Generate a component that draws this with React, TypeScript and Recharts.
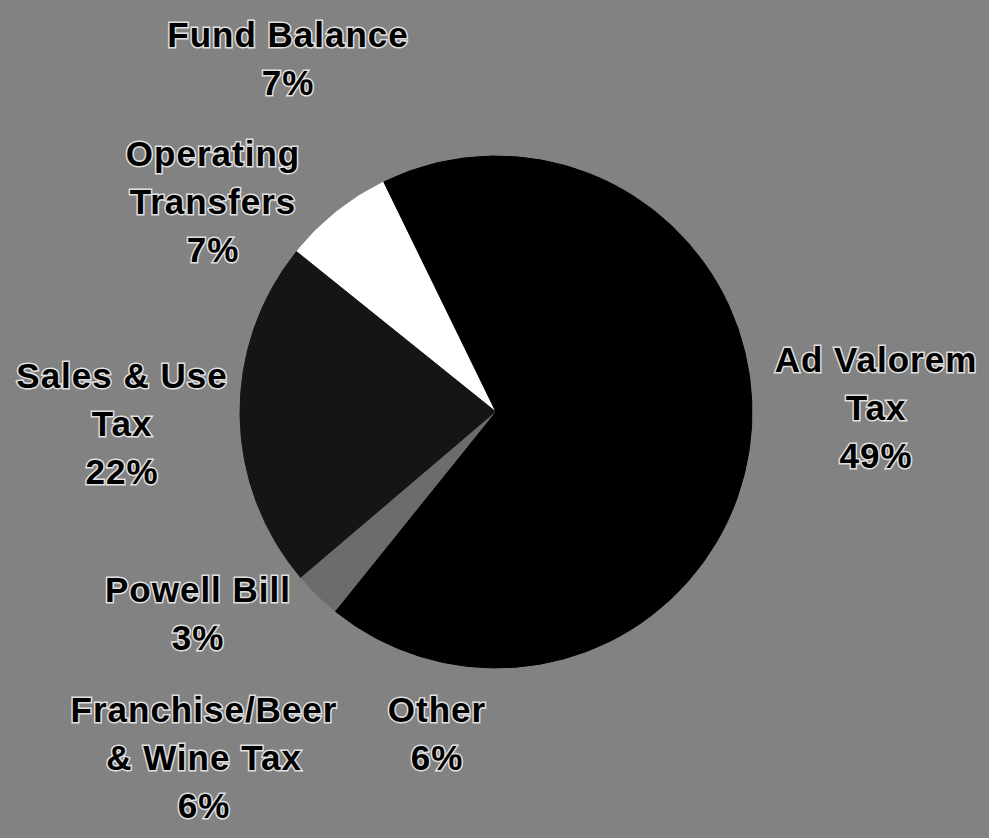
import React from "react";
import { PieChart, Pie, Cell } from "recharts";

// Slices in drawing order (counter-clockwise from the white slice)
const categories = [
  "Operating\nTransfers",
  "Sales & Use\nTax",
  "Powell Bill",
  "Franchise/Beer\n& Wine Tax",
  "Other",
  "Ad Valorem\nTax",
  "Fund Balance",
];
const shares = [7, 22, 3, 6, 6, 49, 7];
const sliceColors = ["#ffffff", "#151515", "#6c6c6c", "#000000", "#000000", "#000000", "#000000"];

const data = categories.map((name, i) => ({ name, value: shares[i] }));

// label anchor (centre x, first baseline y) per category
const LABEL_POS: Record<string, [number, number]> = {
  "Operating\nTransfers": [213, 166],
  "Sales & Use\nTax": [122, 388],
  "Powell Bill": [198, 602],
  "Franchise/Beer\n& Wine Tax": [204, 722],
  "Other": [437, 722],
  "Ad Valorem\nTax": [876, 372],
  "Fund Balance": [288, 47],
};

const LINE_H = 48;

const renderLabel = (props: any) => {
  const idx = props.index;
  const entry = data[idx];
  if (!entry) return null;
  const pos = LABEL_POS[entry.name];
  const lines = [...entry.name.split("\n"), `${entry.value}%`];
  return (
    <text
      key={`lbl-${idx}`}
      x={pos[0]}
      y={pos[1]}
      textAnchor="middle"
      fontFamily="'Liberation Sans', Arial, sans-serif"
      fontWeight="bold"
      fontSize={35}
      letterSpacing={1}
      fill="#000"
      stroke="#e0e0e0"
      strokeWidth={3}
      style={{ paintOrder: "stroke" }}
    >
      {lines.map((l, i) => (
        <tspan key={i} x={pos[0]} y={pos[1] + i * LINE_H}>
          {l}
        </tspan>
      ))}
    </text>
  );
};

export default function App() {
  return (
    <div
      style={{
        position: "absolute",
        left: 0,
        top: 0,
        width: 989,
        height: 838,
        background: "#828282",
      }}
    >
      <PieChart width={989} height={838} margin={{ top: 0, right: 0, bottom: 0, left: 0 }}>
        <Pie
          data={data}
          dataKey="value"
          nameKey="name"
          cx={496}
          cy={412}
          outerRadius={256}
          startAngle={116}
          endAngle={476}
          label={renderLabel}
          labelLine={false}
          isAnimationActive={false}
        >
          {data.map((d, i) => (
            <Cell key={d.name} fill={sliceColors[i]} stroke={sliceColors[i]} strokeWidth={1} />
          ))}
        </Pie>
      </PieChart>
    </div>
  );
}
